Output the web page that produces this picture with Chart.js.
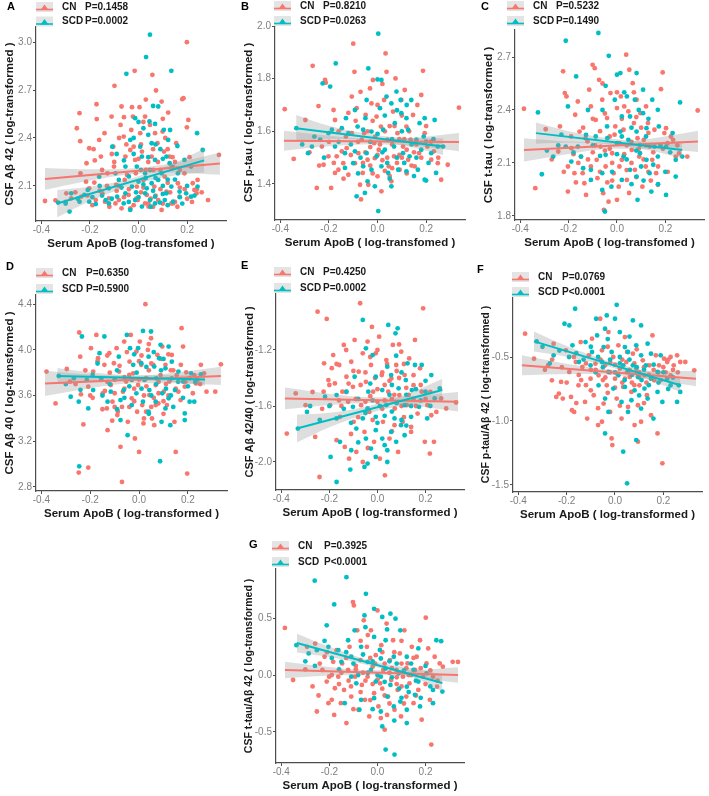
<!DOCTYPE html>
<html><head><meta charset="utf-8">
<script src="https://cdn.jsdelivr.net/npm/chart.js@4.4.1/dist/chart.umd.min.js"></script>
<style>
html,body{margin:0;padding:0;background:#fff;}
body{width:709px;height:796px;position:relative;overflow:hidden;}
canvas{position:absolute;}
</style></head><body>
<script>
// ---------- shared axis data ----------
const X_TICKS = [-0.4, -0.2, 0.0, 0.2];
const P_CN  = ['P=0.1458','P=0.8210','P=0.5232','P=0.6350','P=0.4250','P=0.0769','P=0.3925'];
const P_SCD = ['P=0.0002','P=0.0263','P=0.1490','P=0.5900','P=0.0002','P<0.0001','P<0.0001'];
const GROUPS = ['CN','SCD'];

// ---------- Panel A ----------
const A_YT = [2.1, 2.4, 2.7, 3.0];
const A_CN = [[-0.385,2.006],[-0.342,2.01],[-0.297,2.054],[-0.243,2.555],[-0.254,2.461],[-0.239,2.179],[-0.236,2.033],[-0.214,2.242],[-0.203,2.336],[-0.185,2.33],[-0.173,2.611],[-0.172,2.518],[-0.162,2.388],[-0.155,2.284],[-0.182,2.121],[-0.203,2.085],[-0.149,2.054],[-0.138,2.002],[-0.122,2.023],[-0.111,2.534],[-0.099,2.726],[-0.104,2.346],[-0.101,2.221],[-0.092,2.106],[-0.081,2.012],[-0.074,2.482],[-0.07,2.597],[-0.061,2.409],[-0.054,2.284],[-0.047,2.169],[-0.041,2.044],[-0.034,1.96],[-0.027,2.593],[-0.023,2.534],[-0.016,2.82],[-0.02,2.346],[-0.014,2.263],[-0.011,2.179],[-0.007,2.096],[-0.003,2.012],[0.004,2.593],[0.007,2.43],[0.014,2.315],[0.02,2.138],[0.027,2.534],[0.034,2.044],[0.041,1.971],[0.047,2.482],[0.057,2.795],[0.054,2.284],[0.061,2.2],[0.065,2.096],[0.072,2.697],[0.078,2.367],[0.081,2.012],[0.095,2.628],[0.099,2.44],[0.105,2.315],[0.108,2.158],[0.115,2.065],[0.122,2.559],[0.128,2.284],[0.135,2.211],[0.142,1.991],[0.155,2.367],[0.162,2.117],[0.169,2.033],[0.18,2.643],[0.185,2.649],[0.199,2.999],[0.205,2.513],[0.199,2.467],[0.223,2.117],[0.23,2.075],[0.239,2.054],[0.243,2.138],[0.286,2.012],[0.331,2.294],[0.189,2.179],[-0.128,2.179],[-0.216,2.127],[-0.277,2.023],[-0.057,2.138],[-0.034,2.325],[0.068,2.43],[-0.095,1.991],[0.027,1.991],[0.135,1.991],[-0.176,2.012],[0.095,1.95],[-0.06,2.03],[0.01,2.06],[0.05,2.02],[0.09,2.08],[0.12,2.12],[-0.09,2.07],[-0.13,2.1],[0.17,2.09],[0.2,2.02],[-0.02,1.98],[0.06,1.97],[0.15,2.0],[-0.1,2.25],[0.03,2.2],[-0.05,2.36],[0.11,2.4],[0.0,2.27],[0.08,2.25],[-0.15,2.2],[0.14,2.28],[-0.21,2.04],[0.26,2.06],[0.24,2.08],[-0.3,2.0],[-0.26,2.06],[-0.19,1.98],[-0.16,2.07],[-0.12,1.97],[-0.08,2.1],[-0.07,1.96],[-0.04,2.08],[-0.01,2.02],[0.02,2.09],[0.04,1.99],[0.07,2.04],[0.1,1.99],[0.13,2.06],[0.16,1.97],[0.19,2.08],[0.22,2.0],[-0.11,2.3],[-0.08,2.4],[-0.03,2.45],[0.01,2.36],[0.04,2.25],[0.06,2.33],[0.09,2.2],[0.12,2.33],[0.15,2.25],[0.17,2.2],[-0.18,2.26],[-0.14,2.43],[-0.06,2.53],[0.02,2.5],[0.1,2.52],[-0.24,2.38],[0.21,2.28],[0.03,2.64]];
const A_SCD = [[0.047,3.046],[0.031,2.906],[-0.05,2.801],[0.135,2.82],[0.081,2.597],[-0.014,2.524],[0.045,2.503],[0.068,2.488],[0.02,2.461],[0.104,2.451],[0.241,2.43],[0.264,2.325],[0.122,2.388],[0.054,2.367],[-0.034,2.388],[-0.108,2.346],[0.014,2.284],[0.068,2.263],[0.128,2.242],[0.189,2.263],[0.216,2.221],[-0.054,2.221],[-0.095,2.179],[0.027,2.179],[0.095,2.179],[-0.162,2.158],[0,2.127],[0.054,2.117],[-0.027,2.096],[0.034,2.085],[0.135,2.096],[-0.122,2.085],[-0.223,2.044],[-0.277,2.054],[-0.331,1.996],[-0.284,1.94],[-0.203,2.002],[-0.176,1.987],[-0.135,2.012],[-0.088,2.033],[-0.061,1.991],[-0.014,2.012],[0.014,1.971],[0.047,2.012],[0.068,2.033],[0.088,1.996],[0.108,2.012],[0.142,2.002],[0.169,2.065],[0.196,2.054],[0.216,2.033],[0.243,2.096],[-0.243,2.002],[0.068,1.991],[-0.034,1.95],[-0.081,2.138],[0.115,2.284],[0.007,2.346],[0.081,2.138],[0.162,2.179],[-0.007,2.221],[0.047,2.2],[0.027,2.054],[-0.054,2.054],[0.115,2.054],[-0.209,2.075],[-0.122,1.991],[0.0,2.03],[0.03,2.15],[0.06,2.07],[0.1,2.1],[-0.04,2.16],[0.09,2.33],[0.04,2.42],[0.15,2.14],[-0.02,2.3],[0.18,1.99],[-0.15,2.04],[0.12,1.98],[-0.3,1.99],[-0.25,2.02],[-0.19,2.03],[-0.16,2.1],[-0.11,2.02],[-0.07,2.09],[-0.04,2.0],[-0.01,2.06],[0.02,2.11],[0.05,1.97],[0.07,2.15],[0.1,2.05],[0.12,2.14],[0.14,2.22],[0.17,2.03],[0.2,2.1],[0.23,2.04],[-0.06,2.26],[-0.02,2.4],[0.01,2.2],[0.04,2.28],[0.07,2.36],[0.1,2.27],[0.13,2.45],[-0.09,2.3],[0.06,2.6],[0.0,2.5],[0.16,2.35]];
const A_LINE_CN = [[-0.385,2.144],[0.335,2.24]];
const A_LINE_SCD = [[-0.335,1.99],[0.27,2.26]];
const A_BX_CN = [-0.385,-0.2,-0.02,0.15,0.335];
const A_LO_CN = [2.076,2.134,2.175,2.185,2.17];
const A_HI_CN = [2.212,2.204,2.211,2.245,2.31];
const A_BX_SCD = [-0.335,-0.2,-0.02,0.15,0.27];
const A_LO_SCD = [1.905,2.005,2.108,2.166,2.185];
const A_HI_SCD = [2.075,2.095,2.152,2.246,2.335];

// ---------- Panel B ----------
const B_YT = [1.4, 1.6, 1.8, 2.0];
const B_CN = [[-0.382,1.684],[-0.345,1.495],[-0.297,1.643],[-0.25,1.385],[-0.267,1.849],[-0.216,1.795],[-0.213,1.785],[-0.243,1.696],[-0.229,1.542],[-0.222,1.473],[-0.191,1.385],[-0.181,1.681],[-0.175,1.643],[-0.168,1.505],[-0.161,1.454],[-0.141,1.479],[-0.127,1.536],[-0.12,1.435],[-0.106,1.732],[-0.1,1.933],[-0.095,1.826],[-0.086,1.688],[-0.079,1.517],[-0.072,1.397],[-0.068,1.341],[-0.061,1.442],[-0.055,1.593],[-0.049,1.662],[-0.041,1.492],[-0.038,1.397],[-0.031,1.763],[-0.025,1.706],[-0.019,1.795],[-0.014,1.555],[-0.011,1.498],[-0.004,1.656],[0,1.429],[0.005,1.53],[0.014,1.618],[0.016,1.372],[0.027,1.719],[0.033,1.896],[0.037,1.826],[0.041,1.568],[0.046,1.467],[0.057,1.41],[0.064,1.675],[0.068,1.505],[0.074,1.801],[0.082,1.593],[0.091,1.454],[0.098,1.719],[0.105,1.542],[0.112,1.757],[0.119,1.618],[0.126,1.492],[0.136,1.568],[0.146,1.662],[0.153,1.467],[0.164,1.7],[0.171,1.517],[0.18,1.738],[0.187,1.83],[0.194,1.593],[0.205,1.542],[0.221,1.492],[0.232,1.524],[0.248,1.479],[0.289,1.473],[0.335,1.69],[0.262,1.416],[-0.065,1.568],[-0.147,1.524],[-0.202,1.505],[-0.175,1.442],[-0.093,1.479],[-0.106,1.593],[-0.03,1.47],[0.02,1.49],[0.06,1.55],[-0.08,1.56],[0.1,1.5],[0.12,1.44],[-0.01,1.58],[0.03,1.45],[-0.05,1.52],[0.08,1.48],[0.15,1.52],[-0.13,1.58],[0.0,1.51],[0.05,1.62],[-0.02,1.64],[0.09,1.57],[-0.28,1.52],[-0.24,1.47],[-0.2,1.56],[-0.16,1.6],[-0.14,1.42],[-0.11,1.51],[-0.09,1.64],[-0.06,1.48],[-0.04,1.6],[-0.02,1.44],[0.0,1.7],[0.01,1.55],[0.03,1.6],[0.04,1.5],[0.06,1.46],[0.07,1.62],[0.09,1.51],[0.11,1.57],[0.13,1.6],[0.14,1.47],[0.16,1.55],[0.18,1.5],[0.2,1.62],[0.22,1.56],[0.25,1.5],[-0.12,1.67],[-0.07,1.75],[0.02,1.78],[0.1,1.66],[-0.18,1.48],[0.05,1.43],[-0.03,1.54],[0.12,1.53]];
const B_SCD = [[0.003,1.971],[-0.172,1.858],[-0.038,1.839],[0,1.797],[0.016,1.795],[-0.226,1.782],[-0.195,1.77],[-0.093,1.681],[-0.045,1.719],[0.037,1.732],[0.057,1.706],[0.078,1.751],[0.095,1.719],[0.01,1.688],[0.098,1.669],[0.119,1.65],[0.139,1.719],[0.173,1.631],[0.194,1.65],[0.235,1.643],[-0.334,1.612],[-0.236,1.568],[-0.202,1.593],[-0.188,1.606],[-0.147,1.612],[-0.12,1.593],[-0.082,1.618],[-0.059,1.606],[-0.025,1.599],[0.023,1.606],[0.071,1.631],[0.126,1.606],[0.16,1.568],[0.2,1.561],[0.248,1.542],[0.27,1.542],[-0.27,1.542],[-0.286,1.517],[-0.175,1.542],[-0.134,1.517],[-0.093,1.524],[-0.045,1.517],[-0.004,1.505],[0.03,1.53],[0.068,1.542],[0.105,1.517],[0.132,1.505],[0.18,1.53],[0.221,1.517],[-0.134,1.461],[-0.1,1.479],[-0.059,1.467],[-0.025,1.454],[0.016,1.467],[0.044,1.442],[0.085,1.454],[0.119,1.448],[0.166,1.454],[0.241,1.442],[0.194,1.416],[-0.041,1.41],[-0.011,1.391],[-0.052,1.366],[-0.086,1.353],[0.003,1.297],[0.057,1.391],[0.2,1.413],[-0.31,1.55],[-0.26,1.58],[-0.22,1.5],[-0.16,1.56],[-0.11,1.55],[-0.07,1.5],[-0.03,1.56],[0.0,1.59],[0.02,1.52],[0.04,1.48],[0.06,1.57],[0.08,1.5],[0.1,1.6],[0.11,1.48],[0.14,1.55],[0.16,1.5],[0.19,1.58],[0.21,1.48],[0.23,1.57],[-0.05,1.65],[0.03,1.66],[0.08,1.68],[-0.13,1.65],[0.12,1.7],[0.05,1.42],[-0.08,1.44],[0.15,1.43]];
const B_LINE_CN = [[-0.385,1.564],[0.335,1.559]];
const B_LINE_SCD = [[-0.335,1.612],[0.27,1.542]];
const B_BX_CN = [-0.385,-0.2,-0.02,0.15,0.335];
const B_LO_CN = [1.526,1.543,1.551,1.544,1.524];
const B_HI_CN = [1.602,1.583,1.571,1.576,1.594];
const B_BX_SCD = [-0.335,-0.2,-0.02,0.15,0.27];
const B_LO_SCD = [1.562,1.571,1.564,1.538,1.51];
const B_HI_SCD = [1.662,1.621,1.588,1.574,1.574];

// ---------- Panel C ----------
const C_YT = [1.8, 2.1, 2.4, 2.7];
const C_CN = [[-0.385,2.407],[-0.338,1.957],[-0.295,2.291],[-0.236,2.307],[-0.223,2.619],[-0.216,2.496],[-0.209,2.477],[-0.203,1.938],[-0.243,2.165],[-0.189,2.184],[-0.173,2.373],[-0.162,2.448],[-0.155,2.278],[-0.149,2.136],[-0.142,2.042],[-0.135,1.985],[-0.128,1.919],[-0.122,2.222],[-0.115,2.515],[-0.108,2.42],[-0.101,2.656],[-0.092,2.637],[-0.088,2.344],[-0.084,2.118],[-0.081,2.014],[-0.074,2.571],[-0.068,2.193],[-0.061,2.458],[-0.057,1.929],[-0.054,1.834],[-0.047,2.08],[-0.041,2.354],[-0.035,1.881],[-0.03,2.25],[-0.027,2.496],[-0.02,2.155],[-0.014,2.042],[-0.007,2.307],[0,2.411],[0.007,1.966],[0.011,2.212],[0.016,2.477],[0.02,2.118],[0.027,2.288],[0.038,2.713],[0.041,2.004],[0.047,2.392],[0.051,2.628],[0.061,2.174],[0.065,2.552],[0.07,2.326],[0.074,2.061],[0.081,2.458],[0.085,2.24],[0.092,2.136],[0.097,2.382],[0.105,1.966],[0.111,2.231],[0.119,2.08],[0.128,2.326],[0.135,2.193],[0.146,2.118],[0.155,2.288],[0.162,2.042],[0.169,1.976],[0.182,2.518],[0.189,2.613],[0.196,2.269],[0.203,2.297],[0.209,2.212],[0.223,2.25],[0.232,2.231],[0.243,2.136],[0.257,2.155],[0.291,2.136],[0.334,2.397],[-0.176,2.042],[-0.203,2.08],[-0.108,2.08],[0,1.891],[-0.05,2.17],[0.03,2.15],[0.06,2.22],[-0.1,2.16],[0.1,2.3],[-0.02,2.1],[0.13,2.05],[-0.07,2.28],[0.08,2.02],[-0.13,2.24],[0.04,2.06],[0.12,2.2],[-0.16,2.1],[0.02,2.35],[-0.04,1.99],[-0.27,2.12],[-0.22,2.05],[-0.19,2.25],[-0.17,1.99],[-0.14,2.3],[-0.12,2.12],[-0.09,2.2],[-0.07,2.05],[-0.05,2.38],[-0.03,2.18],[-0.01,2.26],[0.01,2.08],[0.03,2.42],[0.04,2.2],[0.06,2.1],[0.08,2.36],[0.09,2.18],[0.11,2.12],[0.13,2.27],[0.15,2.16],[0.17,2.08],[0.19,2.18],[0.21,2.05],[0.25,2.2],[-0.1,2.35],[-0.06,2.55],[0.0,2.5],[0.07,2.5],[0.12,2.42],[-0.02,2.0],[0.05,1.93],[0.14,2.0],[-0.18,2.15]];
const C_SCD = [[-0.077,2.836],[-0.212,2.792],[-0.034,2.707],[-0.169,2.59],[-0.047,2.537],[0,2.6],[0.014,2.609],[0.081,2.609],[0.108,2.515],[0.041,2.477],[-0.009,2.458],[0.074,2.458],[0.146,2.458],[-0.203,2.42],[0.02,2.363],[0.054,2.363],[0.108,2.382],[0.169,2.401],[0.261,2.443],[-0.327,2.386],[-0.041,2.307],[0.014,2.278],[0.081,2.278],[0.122,2.297],[0.173,2.307],[-0.128,2.259],[-0.088,2.25],[-0.243,2.199],[-0.212,2.193],[-0.162,2.193],[0,2.212],[0.047,2.231],[0.095,2.203],[0.155,2.193],[0.203,2.193],[0.23,2.269],[-0.264,2.136],[-0.189,2.108],[-0.149,2.136],[-0.047,2.146],[0.027,2.136],[0.122,2.118],[0.169,2.136],[0.243,2.118],[0.27,2.136],[-0.311,2.036],[-0.108,2.061],[-0.061,2.042],[0.054,2.061],[0.081,2.023],[0.135,2.042],[0.243,2.023],[-0.108,2.004],[0.02,2.004],[-0.061,1.947],[0.085,1.891],[0.142,1.938],[0.203,1.919],[-0.05,1.825],[-0.023,1.966],[0.095,2.155],[-0.29,2.17],[-0.23,2.26],[-0.18,2.16],[-0.14,2.07],[-0.1,2.2],[-0.07,2.14],[-0.04,2.24],[-0.02,2.05],[0.0,2.15],[0.02,2.25],[0.04,2.12],[0.06,2.3],[0.08,2.17],[0.1,2.08],[0.12,2.25],[0.15,2.09],[0.18,2.2],[0.2,2.05],[0.22,2.16],[-0.06,2.4],[0.03,2.5],[0.09,2.4],[0.13,2.35],[-0.12,2.4],[0.06,1.98],[0.11,2.0],[0.17,1.98]];
const C_LINE_CN = [[-0.385,2.174],[0.335,2.222]];
const C_LINE_SCD = [[-0.335,2.269],[0.27,2.174]];
const C_BX_CN = [-0.385,-0.2,-0.02,0.15,0.335];
const C_LO_CN = [2.108,2.151,2.18,2.18,2.162];
const C_HI_CN = [2.24,2.221,2.216,2.24,2.282];
const C_BX_SCD = [-0.335,-0.2,-0.02,0.15,0.27];
const C_LO_SCD = [2.209,2.216,2.203,2.167,2.126];
const C_HI_SCD = [2.329,2.28,2.237,2.219,2.222];

// ---------- Panel D ----------
const D_YT = [2.8, 3.2, 3.6, 4.0, 4.4];
const D_CN = [[-0.379,3.809],[-0.342,3.531],[-0.296,3.832],[-0.247,2.926],[-0.245,4.151],[-0.241,3.94],[-0.238,3.61],[-0.228,3.347],[-0.208,2.97],[-0.197,4.014],[-0.188,3.809],[-0.175,4.13],[-0.168,3.926],[-0.155,3.736],[-0.149,3.619],[-0.142,3.868],[-0.132,3.487],[-0.129,3.297],[-0.122,3.97],[-0.116,3.692],[-0.109,3.546],[-0.103,3.882],[-0.092,4.014],[-0.087,3.458],[-0.082,3.809],[-0.076,3.151],[-0.07,2.844],[-0.066,3.634],[-0.061,4.072],[-0.053,3.722],[-0.046,3.37],[-0.039,3.897],[-0.034,4.13],[-0.03,3.575],[-0.024,3.794],[-0.017,3.224],[-0.011,3.984],[-0.008,3.458],[-0.004,3.692],[0,3.107],[0.003,4.072],[0.009,3.868],[0.013,3.516],[0.018,3.356],[0.026,4.399],[0.029,3.751],[0.036,3.999],[0.042,3.604],[0.049,4.101],[0.053,3.399],[0.058,3.868],[0.062,3.341],[0.068,3.692],[0.075,3.955],[0.079,3.531],[0.088,3.779],[0.095,4.028],[0.101,3.634],[0.108,3.868],[0.114,3.516],[0.124,3.722],[0.134,3.955],[0.145,3.37],[0.154,3.779],[0.161,3.634],[0.171,3.868],[0.15,3.107],[0.18,4.028],[0.174,4.189],[0.187,3.677],[0.193,3.803],[0.197,2.917],[0.207,3.751],[0.226,3.779],[0.233,3.706],[0.239,3.736],[0.253,3.868],[0.266,3.794],[0.276,3.634],[0.312,3.634],[0.335,3.873],[-0.283,3.721],[-0.208,3.677],[-0.089,3.429],[0.029,3.458],[0.068,3.516],[-0.02,3.66],[0.04,3.82],[-0.06,3.76],[0.12,3.6],[-0.13,3.72],[0.08,3.62],[0.0,3.9],[-0.1,3.62],[0.14,3.82],[0.02,3.6],[-0.04,3.5],[0.1,3.44],[-0.15,3.48],[0.05,3.5],[-0.19,3.58],[-0.26,3.7],[-0.22,3.82],[-0.2,3.6],[-0.17,3.9],[-0.14,3.64],[-0.12,3.8],[-0.1,3.5],[-0.08,3.86],[-0.06,3.66],[-0.04,3.78],[-0.02,3.55],[0.0,3.74],[0.01,3.95],[0.03,3.68],[0.05,3.88],[0.06,3.58],[0.08,3.72],[0.09,3.92],[0.11,3.7],[0.13,3.82],[0.15,3.66],[0.17,3.56],[0.19,3.72],[0.22,3.62],[0.25,3.7],[-0.13,3.95],[-0.05,3.98],[0.04,4.05],[0.12,3.96],[-0.11,3.38],[0.02,3.4],[0.1,3.55],[-0.07,3.5]];
const D_SCD = [[0.016,4.165],[0.049,4.16],[-0.142,4.116],[-0.234,4.116],[-0.05,4.13],[0.088,4.043],[0.121,4.028],[-0.004,4.014],[-0.037,4.014],[-0.162,3.97],[-0.083,3.94],[0.039,3.94],[0.082,3.926],[0.134,3.896],[0.009,3.882],[-0.024,3.868],[0.062,3.853],[0.108,3.838],[0.161,3.809],[0.213,3.794],[0.253,3.785],[-0.329,3.771],[-0.267,3.75],[-0.214,3.736],[-0.155,3.75],[-0.1,3.74],[-0.03,3.736],[0.022,3.736],[0.07,3.75],[0.134,3.75],[0.18,3.722],[-0.188,3.648],[-0.116,3.634],[-0.063,3.648],[-0.011,3.619],[0.042,3.648],[0.095,3.619],[0.147,3.648],[-0.28,3.589],[-0.247,3.546],[-0.129,3.546],[-0.076,3.56],[0.016,3.546],[0.068,3.546],[0.121,3.575],[0.207,3.546],[0.226,3.546],[-0.03,3.516],[0.039,3.458],[0.108,3.487],[-0.208,3.487],[-0.076,3.385],[0.092,3.37],[0.128,3.341],[0.187,3.385],[-0.047,3.253],[-0.245,2.981],[0.086,3.025],[0.187,3.443],[-0.3,3.7],[-0.24,3.65],[-0.19,3.78],[-0.15,3.6],[-0.12,3.7],[-0.09,3.82],[-0.06,3.58],[-0.04,3.68],[-0.01,3.8],[0.01,3.66],[0.03,3.85],[0.05,3.6],[0.07,3.7],[0.09,3.82],[0.11,3.66],[0.13,3.6],[0.16,3.72],[0.18,3.58],[0.2,3.68],[0.23,3.72],[-0.02,3.96],[0.06,3.98],[0.1,3.92],[-0.09,3.48],[0.04,3.44],[0.14,3.5],[-0.17,3.88]];
const D_LINE_CN = [[-0.385,3.706],[0.335,3.771]];
const D_LINE_SCD = [[-0.335,3.771],[0.27,3.741]];
const D_BX_CN = [-0.385,-0.2,-0.02,0.15,0.335];
const D_LO_CN = [3.596,3.663,3.707,3.707,3.691];
const D_HI_CN = [3.816,3.783,3.771,3.801,3.851];
const D_BX_SCD = [-0.335,-0.2,-0.02,0.15,0.27];
const D_LO_SCD = [3.701,3.724,3.733,3.715,3.686];
const D_HI_SCD = [3.841,3.804,3.777,3.779,3.796];

// ---------- Panel E ----------
const E_YT = [-2.0, -1.6, -1.2];
const E_CN = [[-0.377,-1.797],[-0.34,-1.51],[-0.299,-1.594],[-0.259,-1.821],[-0.249,-0.926],[-0.241,-2.107],[-0.224,-1.498],[-0.222,-1.295],[-0.211,-0.978],[-0.204,-1.415],[-0.197,-1.594],[-0.184,-1.236],[-0.177,-1.439],[-0.17,-1.844],[-0.159,-1.307],[-0.156,-1.677],[-0.146,-1.498],[-0.14,-1.164],[-0.136,-1.892],[-0.129,-1.391],[-0.122,-1.57],[-0.118,-1.976],[-0.109,-1.284],[-0.102,-1.463],[-0.099,-1.713],[-0.095,-1.128],[-0.088,-1.928],[-0.078,-1.355],[-0.072,-0.866],[-0.068,-1.594],[-0.061,-1.224],[-0.054,-1.785],[-0.048,-1.427],[-0.041,-1.14],[-0.034,-1.642],[-0.027,-1.307],[-0.023,-1.035],[-0.018,-1.498],[-0.014,-1.856],[-0.007,-1.224],[0,-1.57],[0.007,-1.105],[0.01,-1.976],[0.018,-1.379],[0.023,-1.713],[0.031,-2.095],[0.037,-1.272],[0.045,-1.498],[0.05,-1.833],[0.058,-1.403],[0.064,-1.164],[0.072,-1.618],[0.078,-1.307],[0.086,-1.928],[0.091,-1.522],[0.099,-1.212],[0.105,-1.713],[0.113,-1.379],[0.122,-1.594],[0.132,-1.26],[0.14,-1.785],[0.15,-1.451],[0.156,-1.128],[0.167,-1.654],[0.177,-1.331],[0.184,-1.498],[0.19,-0.902],[0.197,-1.856],[0.208,-1.594],[0.218,-1.94],[0.224,-1.666],[0.235,-1.856],[0.245,-1.642],[0.265,-1.546],[0.286,-1.618],[0.327,-1.575],[-0.061,-2.0],[0.071,-1.737],[-0.03,-1.53],[0.03,-1.45],[-0.09,-1.55],[0.09,-1.4],[-0.16,-1.56],[0.12,-1.47],[-0.05,-1.36],[0.02,-1.62],[0.06,-1.55],[-0.12,-1.44],[0.15,-1.55],[-0.01,-1.4],[-0.19,-1.33],[0.11,-1.68],[0.04,-1.3],[-0.27,-1.5],[-0.23,-1.62],[-0.2,-1.45],[-0.17,-1.3],[-0.15,-1.6],[-0.13,-1.5],[-0.1,-1.35],[-0.08,-1.68],[-0.07,-1.45],[-0.05,-1.57],[-0.03,-1.25],[-0.02,-1.7],[0.0,-1.48],[0.02,-1.36],[0.03,-1.56],[0.05,-1.42],[0.07,-1.52],[0.08,-1.35],[0.1,-1.6],[0.11,-1.3],[0.13,-1.52],[0.15,-1.38],[0.16,-1.6],[0.18,-1.45],[0.2,-1.55],[0.22,-1.5],[-0.11,-1.8],[-0.04,-1.9],[0.06,-1.78],[0.14,-1.75],[-0.13,-1.2],[0.0,-1.2],[0.09,-1.16]];
const E_SCD = [[-0.061,-0.985],[0.045,-1.021],[0.084,-1.045],[0.075,-1.081],[-0.048,-1.188],[-0.02,-1.236],[0.078,-1.241],[0.125,-1.295],[0.156,-1.307],[0.184,-1.307],[0.041,-1.319],[0.224,-1.379],[-0.095,-1.391],[-0.007,-1.391],[0.057,-1.379],[0.118,-1.415],[-0.218,-1.534],[-0.331,-1.761],[-0.293,-1.642],[-0.17,-1.522],[-0.129,-1.498],[-0.038,-1.498],[0.02,-1.486],[0.088,-1.474],[0.143,-1.486],[0.2,-1.498],[0.259,-1.474],[0.238,-1.546],[-0.102,-1.606],[-0.041,-1.618],[0.037,-1.594],[0.113,-1.594],[0.173,-1.606],[0.207,-1.689],[-0.17,-1.689],[-0.061,-1.689],[-0.007,-1.677],[0.071,-1.689],[0.14,-1.677],[-0.088,-1.761],[-0.007,-1.773],[0.057,-1.785],[0.113,-1.809],[-0.156,-1.856],[-0.048,-1.833],[0.02,-1.833],[0.078,-1.856],[-0.195,-1.964],[-0.109,-1.916],[-0.027,-1.904],[0.041,-1.916],[-0.007,-1.964],[-0.041,-2.011],[-0.054,-2.035],[-0.113,-2.054],[-0.17,-2.143],[0.041,-2.0],[0.098,-1.737],[-0.28,-1.6],[-0.24,-1.7],[-0.2,-1.6],[-0.14,-1.62],[-0.11,-1.72],[-0.08,-1.55],[-0.05,-1.65],[-0.02,-1.56],[0.0,-1.72],[0.01,-1.6],[0.03,-1.67],[0.05,-1.52],[0.06,-1.64],[0.08,-1.58],[0.1,-1.7],[0.12,-1.52],[0.14,-1.6],[0.16,-1.48],[0.18,-1.56],[0.2,-1.42],[0.22,-1.6],[0.06,-1.45],[0.1,-1.36],[-0.03,-1.44],[0.03,-1.88],[-0.08,-1.86],[0.12,-1.74]];
const E_LINE_CN = [[-0.385,-1.546],[0.335,-1.57]];
const E_LINE_SCD = [[-0.335,-1.761],[0.27,-1.486]];
const E_BX_CN = [-0.385,-0.2,-0.02,0.15,0.335];
const E_LO_CN = [-1.624,-1.592,-1.578,-1.599,-1.64];
const E_HI_CN = [-1.468,-1.512,-1.538,-1.529,-1.5];
const E_BX_SCD = [-0.335,-0.2,-0.02,0.15,0.27];
const E_LO_SCD = [-1.861,-1.752,-1.644,-1.586,-1.566];
const E_HI_SCD = [-1.661,-1.648,-1.592,-1.496,-1.406];

// ---------- Panel F ----------
const F_YT = [-1.5, -1.0, -0.5];
const F_CN = [[-0.372,-0.318],[-0.335,-0.513],[-0.277,-0.565],[-0.261,-0.682],[-0.254,-0.396],[-0.243,-0.812],[-0.232,-0.786],[-0.223,-0.695],[-0.216,-0.825],[-0.203,-0.448],[-0.189,-0.617],[-0.182,-0.812],[-0.178,-0.916],[-0.169,-0.929],[-0.162,-0.539],[-0.151,-0.721],[-0.142,-0.383],[-0.135,-0.578],[-0.124,-0.851],[-0.115,-0.981],[-0.108,-0.487],[-0.101,-0.669],[-0.095,-0.357],[-0.088,-0.799],[-0.081,-0.552],[-0.07,-1.032],[-0.068,-0.643],[-0.061,-0.201],[-0.054,-0.448],[-0.047,-0.864],[-0.041,-0.565],[-0.034,-0.721],[-0.027,-0.305],[-0.02,-0.929],[-0.014,-1.136],[-0.011,-1.188],[-0.007,-0.5],[0,-0.669],[0.007,-0.825],[0.014,-0.409],[0.02,-0.591],[0.027,-0.981],[0.034,-0.734],[0.041,-0.344],[0.047,-0.539],[0.054,-0.89],[0.061,-0.656],[0.068,-0.773],[0.074,-0.474],[0.081,-1.032],[0.088,-0.591],[0.095,-0.877],[0.101,-0.721],[0.108,-1.006],[0.115,-0.526],[0.122,-0.643],[0.132,-0.799],[0.142,-0.565],[0.149,-0.955],[0.155,-0.331],[0.162,-0.682],[0.169,-0.487],[0.176,-1.097],[0.182,-0.565],[0.196,-1.331],[0.203,-0.513],[0.216,-0.539],[0.23,-0.5],[0.243,-0.565],[0.257,-0.487],[0.27,-0.539],[0.291,-0.539],[0.328,-0.604],[0.23,-0.643],[0.095,-1.162],[-0.054,-1.006],[0.041,-0.669],[-0.02,-0.62],[0.06,-0.6],[-0.1,-0.6],[0.1,-0.62],[-0.05,-0.68],[0.03,-0.7],[0.13,-0.7],[-0.15,-0.64],[0.0,-0.56],[0.08,-0.72],[-0.12,-0.72],[0.18,-0.62],[0.05,-0.46],[-0.03,-0.78],[0.2,-0.58],[-0.29,-0.6],[-0.26,-0.52],[-0.22,-0.58],[-0.2,-0.7],[-0.17,-0.5],[-0.14,-0.68],[-0.12,-0.55],[-0.1,-0.76],[-0.08,-0.6],[-0.06,-0.52],[-0.04,-0.66],[-0.02,-0.54],[0.0,-0.74],[0.01,-0.63],[0.03,-0.52],[0.05,-0.62],[0.07,-0.7],[0.08,-0.55],[0.1,-0.66],[0.12,-0.58],[0.14,-0.64],[0.16,-0.6],[0.19,-0.68],[0.21,-0.62],[0.24,-0.6],[0.26,-0.62],[-0.07,-0.9],[0.02,-0.88],[0.12,-0.86],[-0.16,-0.86],[-0.03,-0.42],[0.09,-0.44],[0.22,-0.52]];
const F_SCD = [[0.007,-0.092],[-0.165,-0.123],[-0.034,-0.175],[-0.209,-0.24],[-0.189,-0.253],[-0.078,-0.201],[0,-0.201],[0.074,-0.214],[0.108,-0.253],[-0.324,-0.378],[-0.254,-0.487],[-0.176,-0.409],[-0.122,-0.383],[-0.074,-0.331],[-0.041,-0.279],[0.02,-0.305],[0.041,-0.422],[0.088,-0.409],[0.135,-0.396],[-0.095,-0.461],[-0.047,-0.422],[-0.014,-0.461],[0.02,-0.5],[0.054,-0.461],[0.108,-0.487],[0.149,-0.474],[0.189,-0.487],[-0.149,-0.539],[-0.101,-0.565],[-0.054,-0.539],[0.034,-0.565],[0.074,-0.565],[0.128,-0.565],[0.176,-0.617],[-0.027,-0.617],[0.014,-0.643],[0.054,-0.617],[0.095,-0.656],[0.149,-0.669],[0.216,-0.669],[0.23,-0.721],[0.264,-0.721],[0.27,-0.773],[-0.068,-0.721],[-0.007,-0.747],[0.041,-0.734],[0.081,-0.76],[0.122,-0.747],[0.176,-0.773],[0.257,-0.851],[-0.041,-0.825],[0.027,-0.851],[0.068,-0.838],[0.135,-0.825],[0.196,-0.851],[-0.027,-0.929],[0.054,-0.929],[0.108,-0.903],[0.159,-0.981],[-0.041,-1.097],[0.088,-1.149],[0.034,-1.24],[0.05,-1.487],[-0.3,-0.42],[-0.27,-0.55],[-0.23,-0.45],[-0.19,-0.5],[-0.16,-0.47],[-0.13,-0.52],[-0.1,-0.42],[-0.07,-0.5],[-0.05,-0.58],[-0.02,-0.52],[0.0,-0.62],[0.02,-0.55],[0.04,-0.68],[0.06,-0.52],[0.07,-0.64],[0.09,-0.58],[0.11,-0.68],[0.12,-0.6],[0.14,-0.72],[0.16,-0.56],[0.18,-0.7],[0.2,-0.62],[0.22,-0.75],[0.24,-0.66],[-0.03,-0.36],[0.06,-0.34],[0.1,-0.8],[-0.08,-0.62]];
const F_LINE_CN = [[-0.385,-0.565],[0.335,-0.669]];
const F_LINE_SCD = [[-0.335,-0.378],[0.27,-0.721]];
const F_BX_CN = [-0.385,-0.2,-0.02,0.15,0.335];
const F_LO_CN = [-0.643,-0.632,-0.638,-0.675,-0.729];
const F_HI_CN = [-0.487,-0.552,-0.598,-0.609,-0.609];
const F_BX_SCD = [-0.335,-0.2,-0.02,0.15,0.27];
const F_LO_SCD = [-0.456,-0.497,-0.579,-0.688,-0.773];
const F_HI_SCD = [-0.3,-0.413,-0.535,-0.618,-0.669];

// ---------- Panel G ----------
const G_YT = [-0.5, 0.0, 0.5];
const G_CN = [[-0.385,0.413],[-0.351,-0.044],[-0.293,0.247],[-0.259,0.276],[-0.252,-0.32],[-0.245,-0.18],[-0.229,0.044],[-0.22,0.16],[-0.211,-0.058],[-0.201,-0.015],[-0.19,-0.218],[-0.184,0.116],[-0.177,-0.116],[-0.17,0.218],[-0.163,-0.015],[-0.152,-0.247],[-0.147,0.102],[-0.139,-0.131],[-0.129,-0.422],[-0.122,0.044],[-0.116,0.247],[-0.109,-0.189],[-0.102,0.64],[-0.098,0.61],[-0.093,-0.015],[-0.084,0.392],[-0.079,-0.305],[-0.071,0.131],[-0.065,-0.087],[-0.057,0.48],[-0.052,-0.218],[-0.044,0.247],[-0.041,-0.015],[-0.034,-0.363],[-0.027,0.392],[-0.02,0.073],[-0.014,-0.16],[-0.007,0.174],[0,0.567],[0.004,-0.276],[0.011,-0.073],[0.014,-0.378],[0.016,0.262],[0.024,0.044],[0.03,-0.48],[0.038,0.451],[0.044,-0.189],[0.052,0.131],[0.057,-0.044],[0.065,0.305],[0.071,-0.305],[0.079,0.044],[0.084,-0.131],[0.093,0.189],[0.098,-0.363],[0.106,-0.015],[0.112,0.392],[0.12,-0.189],[0.125,0.102],[0.133,-0.073],[0.143,0.247],[0.15,-0.247],[0.156,0.044],[0.163,0.16],[0.17,-0.131],[0.177,0.305],[0.184,-0.392],[0.19,-0.015],[0.201,0.503],[0.204,0.102],[0.211,0.233],[0.218,-0.218],[0.224,-0.61],[0.231,-0.015],[0.238,0.16],[0.248,-0.102],[0.259,0.102],[0.272,0.073],[0.313,0.116],[0.335,0.115],[-0.204,-0.247],[-0.06,0.02],[0.03,0.1],[-0.12,-0.05],[0.08,-0.02],[-0.02,-0.08],[0.06,0.06],[-0.09,0.08],[0.1,-0.1],[0.02,-0.12],[-0.15,0.02],[0.14,0.0],[-0.03,0.15],[0.05,-0.25],[-0.07,-0.15],[0.12,0.06],[-0.3,0.05],[-0.27,-0.1],[-0.24,0.1],[-0.21,0.2],[-0.19,0.0],[-0.16,-0.08],[-0.13,0.15],[-0.11,-0.1],[-0.09,0.05],[-0.07,0.3],[-0.05,-0.05],[-0.03,-0.22],[-0.01,0.1],[0.0,-0.04],[0.02,0.2],[0.03,-0.18],[0.05,0.02],[0.07,0.2],[0.08,-0.08],[0.1,0.1],[0.11,-0.25],[0.13,0.0],[0.15,0.15],[0.16,-0.18],[0.18,0.06],[0.2,-0.08],[0.22,0.04],[0.25,-0.05],[-0.1,-0.3],[0.04,-0.35],[0.1,0.3],[-0.04,0.35],[-0.18,-0.35]];
const G_SCD = [[-0.261,0.828],[-0.129,0.858],[-0.048,0.712],[-0.18,0.619],[-0.014,0.581],[-0.211,0.436],[-0.095,0.392],[-0.054,0.523],[0.02,0.509],[0.054,0.538],[0.075,0.494],[-0.337,0.262],[-0.286,0.189],[-0.252,0.218],[-0.204,0.247],[-0.163,0.218],[-0.122,0.305],[-0.068,0.247],[-0.014,0.334],[0.034,0.305],[0.095,0.392],[-0.15,0.116],[-0.109,0.16],[-0.041,0.116],[0.014,0.145],[0.068,0.16],[0.122,0.16],[0.17,0.233],[0.245,0.305],[0.265,0.297],[-0.027,0.044],[0.034,0.058],[0.088,0.015],[0.15,0.044],[0.204,0.015],[-0.088,-0.073],[-0.007,-0.058],[0.054,-0.087],[0.122,-0.102],[0.17,-0.058],[0.231,-0.131],[0.27,-0.145],[-0.068,-0.218],[-0.014,-0.203],[0.041,-0.189],[0.095,-0.233],[0.156,-0.174],[-0.136,-0.247],[-0.075,-0.305],[0.014,-0.32],[0.068,-0.276],[0.122,-0.305],[0.177,-0.276],[0.122,-0.422],[0.02,-0.451],[0.034,-0.654],[0.071,-0.698],[0.231,-0.247],[-0.109,-0.015],[0.014,-0.015],[-0.3,0.12],[-0.26,0.08],[-0.22,0.3],[-0.19,0.15],[-0.16,0.05],[-0.13,0.2],[-0.1,0.1],[-0.08,0.0],[-0.06,0.18],[-0.04,0.02],[-0.02,0.12],[0.0,0.0],[0.01,0.22],[0.03,-0.06],[0.05,0.12],[0.06,-0.02],[0.08,0.1],[0.09,-0.12],[0.11,0.04],[0.13,-0.15],[0.14,0.1],[0.16,-0.05],[0.18,-0.2],[0.2,0.08],[0.22,-0.1],[-0.05,0.42],[0.04,0.4],[-0.02,-0.3],[0.07,-0.4],[0.1,-0.2]];
const G_LINE_CN = [[-0.385,0.044],[0.335,0.0]];
const G_LINE_SCD = [[-0.335,0.28],[0.27,-0.07]];
const G_BX_CN = [-0.385,-0.2,-0.02,0.15,0.335];
const G_LO_CN = [-0.029,-0.005,0.003,-0.021,-0.068];
const G_HI_CN = [0.117,0.071,0.041,0.043,0.068];
const G_BX_SCD = [-0.335,-0.2,-0.02,0.15,0.27];
const G_LO_SCD = [0.197,0.157,0.076,-0.019,-0.145];
const G_HI_SCD = [0.363,0.247,0.12,0.057,0.005];

// ---------- styling / layout ----------
const FONT = "'Liberation Sans', Arial, Helvetica, sans-serif";
const CN_COLOR = '#F8766D', SCD_COLOR = '#00BFC4';
const BAND = 'rgba(153,153,153,0.32)';
const AXIS = '#4d4d4d', TICKTXT = '#7f7f7f', TITLE = '#1a1a1a';

const PANELS = [
  {letter:'A', area:[36,27,227,221], rowTop:0, letterPos:[7,7], tx:62, px:85, ry:[7,21.5],
   yMin:1.881, yMax:3.094, yt:A_YT, cn:A_CN, scd:A_SCD, lcn:A_LINE_CN, lscd:A_LINE_SCD,
   bxc:A_BX_CN, loc:A_LO_CN, hic:A_HI_CN, bxs:A_BX_SCD, los:A_LO_SCD, his:A_HI_SCD,
   yTitle:'CSF A\u03b2 42 ( log-transformed )', xTitle:'Serum ApoB (log-transfomed )', ys:11.5},
  {letter:'B', area:[275,25,466,220], rowTop:0, letterPos:[241,7], tx:300, px:323, ry:[6,21],
   yMin:1.263, yMax:2.004, yt:B_YT, cn:B_CN, scd:B_SCD, lcn:B_LINE_CN, lscd:B_LINE_SCD,
   bxc:B_BX_CN, loc:B_LO_CN, hic:B_HI_CN, bxs:B_BX_SCD, los:B_LO_SCD, his:B_HI_SCD,
   yTitle:'CSF p-tau ( log-transformed )', xTitle:'Serum ApoB ( log-transfomed )', ys:11.5},
  {letter:'C', area:[515,30,705,220], rowTop:0, letterPos:[481,7], tx:533, px:556, ry:[6,21],
   yMin:1.777, yMax:2.853, yt:C_YT, cn:C_CN, scd:C_SCD, lcn:C_LINE_CN, lscd:C_LINE_SCD,
   bxc:C_BX_CN, loc:C_LO_CN, hic:C_HI_CN, bxs:C_BX_SCD, los:C_LO_SCD, his:C_HI_SCD,
   yTitle:'CSF t-tau ( log-transformed )', xTitle:'Serum ApoB ( log-transfomed )', ys:11.5},
  {letter:'D', area:[36,295,228,491], rowTop:256, letterPos:[6,267], tx:62, px:86, ry:[273,289],
   yMin:2.765, yMax:4.479, yt:D_YT, cn:D_CN, scd:D_SCD, lcn:D_LINE_CN, lscd:D_LINE_SCD,
   bxc:D_BX_CN, loc:D_LO_CN, hic:D_HI_CN, bxs:D_BX_SCD, los:D_LO_SCD, his:D_HI_SCD,
   yTitle:'CSF A\u03b2 40 ( log-transformed )', xTitle:'Serum ApoB ( log-transformed )', ys:11.5},
  {letter:'E', area:[276,294,465,490], rowTop:256, letterPos:[241,266], tx:300, px:323, ry:[272,288],
   yMin:-2.2, yMax:-0.8, yt:E_YT, cn:E_CN, scd:E_SCD, lcn:E_LINE_CN, lscd:E_LINE_SCD,
   bxc:E_BX_CN, loc:E_LO_CN, hic:E_HI_CN, bxs:E_BX_SCD, los:E_LO_SCD, his:E_HI_SCD,
   yTitle:'CSF A\u03b2 42/40 ( log-transformed )', xTitle:'Serum ApoB ( log-transformed )', ys:11},
  {letter:'F', area:[513,297,703,492], rowTop:256, letterPos:[477,270], tx:538, px:562, ry:[277,292],
   yMin:-1.555, yMax:-0.031, yt:F_YT, cn:F_CN, scd:F_SCD, lcn:F_LINE_CN, lscd:F_LINE_SCD,
   bxc:F_BX_CN, loc:F_LO_CN, hic:F_HI_CN, bxs:F_BX_SCD, los:F_LO_SCD, his:F_HI_SCD,
   yTitle:'CSF p-tau/A\u03b2 42 ( log-transformed )', xTitle:'Serum ApoB ( log-transformed )', ys:10.5},
  {letter:'G', area:[276,569,465,763], rowTop:528, letterPos:[249,545], tx:298, px:324, ry:[546,562],
   yMin:-0.772, yMax:0.93, yt:G_YT, cn:G_CN, scd:G_SCD, lcn:G_LINE_CN, lscd:G_LINE_SCD,
   bxc:G_BX_CN, loc:G_LO_CN, hic:G_HI_CN, bxs:G_BX_SCD, los:G_LO_SCD, his:G_HI_SCD,
   yTitle:'CSF t-tau/A\u03b2 42 ( log-transformed )', xTitle:'Serum ApoB ( log-transformed )', ys:10.5}
];

const decor = {
  id: 'decor',
  afterDraw(chart, args, o) {
    const ctx = chart.ctx;
    ctx.save();
    ctx.textBaseline = 'middle'; ctx.textAlign = 'left';
    ctx.fillStyle = '#000';
    ctx.font = `bold 11px ${FONT}`;
    ctx.fillText(o.letter, o.letterPos[0] - o.ox, o.letterPos[1] - o.oy);
    o.rows.forEach(r => {
      const y = r.y - o.oy;
      const kx = o.tx - 26 - o.ox;
      ctx.fillStyle = '#e4e4e4';
      ctx.fillRect(kx, y - 5, 17, 10);
      ctx.strokeStyle = r.color; ctx.lineWidth = 1.6;
      ctx.beginPath(); ctx.moveTo(kx, y + 2.5); ctx.lineTo(kx + 17, y + 2.5); ctx.stroke();
      ctx.fillStyle = r.color;
      ctx.beginPath(); ctx.moveTo(kx + 4.5, y + 3); ctx.lineTo(kx + 8.5, y - 2.5); ctx.lineTo(kx + 12.5, y + 3); ctx.closePath(); ctx.fill();
      ctx.fillStyle = '#1a1a1a';
      ctx.font = `bold 10px ${FONT}`;
      ctx.fillText(r.label, o.tx - o.ox, y);
      ctx.fillText(r.p, o.px - o.ox, y);
    });
    ctx.restore();
  }
};

const toXY = arr => arr.map(([x, y]) => ({x, y}));
const lineDS = (arr, color) => ({type:'line', data:toXY(arr), borderColor:color, borderWidth:2, pointRadius:0, fill:false, tension:0});
const bandDS = (xs, ys, fill) => ({type:'line', data:xs.map((x, i) => ({x, y:ys[i]})), borderColor:'rgba(0,0,0,0)', borderWidth:0,
  pointRadius:0, fill:fill, backgroundColor:BAND, cubicInterpolationMode:'monotone'});
const ptsDS = (arr, color) => ({type:'scatter', data:toXY(arr), pointRadius:2.4, backgroundColor:color, borderColor:color, pointBorderWidth:0, showLine:false});

PANELS.forEach((p, i) => {
  const [L, T, R, B] = p.area;
  const YW = 36, XH = 34, padR = 3;
  const cl = L - YW, ct = p.rowTop;
  const w = R - L + YW + padR, h = B - ct + XH;
  const c = document.createElement('canvas');
  c.width = w; c.height = h;
  c.style.left = cl + 'px'; c.style.top = ct + 'px';
  c.style.width = w + 'px'; c.style.height = h + 'px';
  document.body.appendChild(c);
  new Chart(c, {
    type: 'scatter',
    data: {datasets: [
      lineDS(p.lscd, SCD_COLOR),
      lineDS(p.lcn, CN_COLOR),
      bandDS(p.bxs, p.his, '+1'), bandDS(p.bxs, p.los, false),
      bandDS(p.bxc, p.hic, '+1'), bandDS(p.bxc, p.loc, false),
      ptsDS(p.scd, SCD_COLOR),
      ptsDS(p.cn, CN_COLOR)
    ]},
    options: {
      responsive: false, animation: false, devicePixelRatio: 1, events: [],
      layout: {padding: {top: T - ct, right: padR, left: 0, bottom: 0}},
      plugins: {
        legend: {display: false}, tooltip: {enabled: false},
        decor: {letter: p.letter, letterPos: p.letterPos, ox: cl, oy: ct, tx: p.tx, px: p.px,
          rows: [{label: GROUPS[0], p: P_CN[i], color: CN_COLOR, y: p.ry[0]},
                 {label: GROUPS[1], p: P_SCD[i], color: SCD_COLOR, y: p.ry[1]}]}
      },
      scales: {
        x: {type: 'linear', min: -0.422, max: 0.36,
          afterBuildTicks: s => { s.ticks = X_TICKS.map(v => ({value: v})); },
          afterFit: s => { s.height = XH; },
          ticks: {callback: v => Number(v).toFixed(1), color: TICKTXT, font: {family: FONT, size: 10}, padding: 0, maxRotation: 0, autoSkip: false},
          grid: {display: true, drawOnChartArea: false, drawTicks: true, tickLength: 3, color: AXIS, lineWidth: 1},
          border: {display: true, color: AXIS, width: 1.2},
          title: {display: true, text: p.xTitle, color: TITLE, font: {family: FONT, size: 11.5, weight: 'bold'}, padding: {top: 0, bottom: 4}}
        },
        y: {type: 'linear', min: p.yMin, max: p.yMax,
          afterBuildTicks: s => { s.ticks = p.yt.map(v => ({value: v})); },
          afterFit: s => { s.width = YW; },
          ticks: {callback: v => Number(v).toFixed(1), color: TICKTXT, font: {family: FONT, size: 10}, padding: 1, autoSkip: false},
          grid: {display: true, drawOnChartArea: false, drawTicks: true, tickLength: 3, color: AXIS, lineWidth: 1},
          border: {display: true, color: AXIS, width: 1.2},
          title: {display: true, text: p.yTitle, color: TITLE, font: {family: FONT, size: p.ys, weight: 'bold'}, padding: {top: 3, bottom: 0}}
        }
      }
    },
    plugins: [decor]
  });
});
</script>
</body></html>
